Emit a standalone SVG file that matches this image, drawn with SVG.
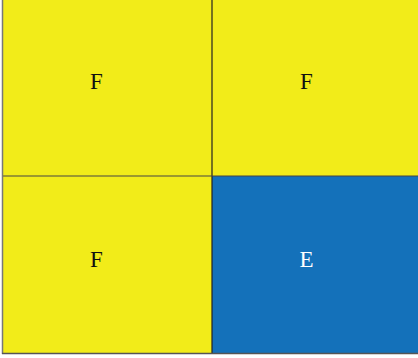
<svg xmlns="http://www.w3.org/2000/svg" width="418" height="358" viewBox="0 0 418 358">
<style>
.f{fill:#f2ec19}
.e{fill:#1471ba}
.t{font-family:"Liberation Serif","DejaVu Serif",serif;font-size:23px;text-anchor:middle}
</style>
<rect width="418" height="358" fill="#ffffff"/>
<g id="cell-tl"><rect class="f" x="3" y="0" width="209" height="176"/><text class="t" x="96.5" y="88.5" fill="#111">F</text></g>
<g id="cell-tr"><rect class="f" x="212" y="0" width="206" height="176"/><text class="t" x="306.5" y="88.5" fill="#111">F</text></g>
<g id="cell-bl"><rect class="f" x="3" y="176" width="209" height="177"/><text class="t" x="96.5" y="267" fill="#111">F</text></g>
<g id="cell-br"><rect class="e" x="212" y="176" width="206" height="177"/><text class="t" x="306.5" y="267" fill="#fff">E</text></g>
<g id="lines" stroke-width="1.2" fill="none">
<line x1="212" y1="0" x2="212" y2="353" stroke="#222"/>
<line x1="3" y1="176" x2="418" y2="176" stroke="#444"/>
<line x1="2.5" y1="0" x2="2.5" y2="354" stroke="#777" stroke-width="1.5"/>
<line x1="2" y1="353.5" x2="418" y2="353.5" stroke="#555" stroke-width="1.5"/>
</g>
</svg>
